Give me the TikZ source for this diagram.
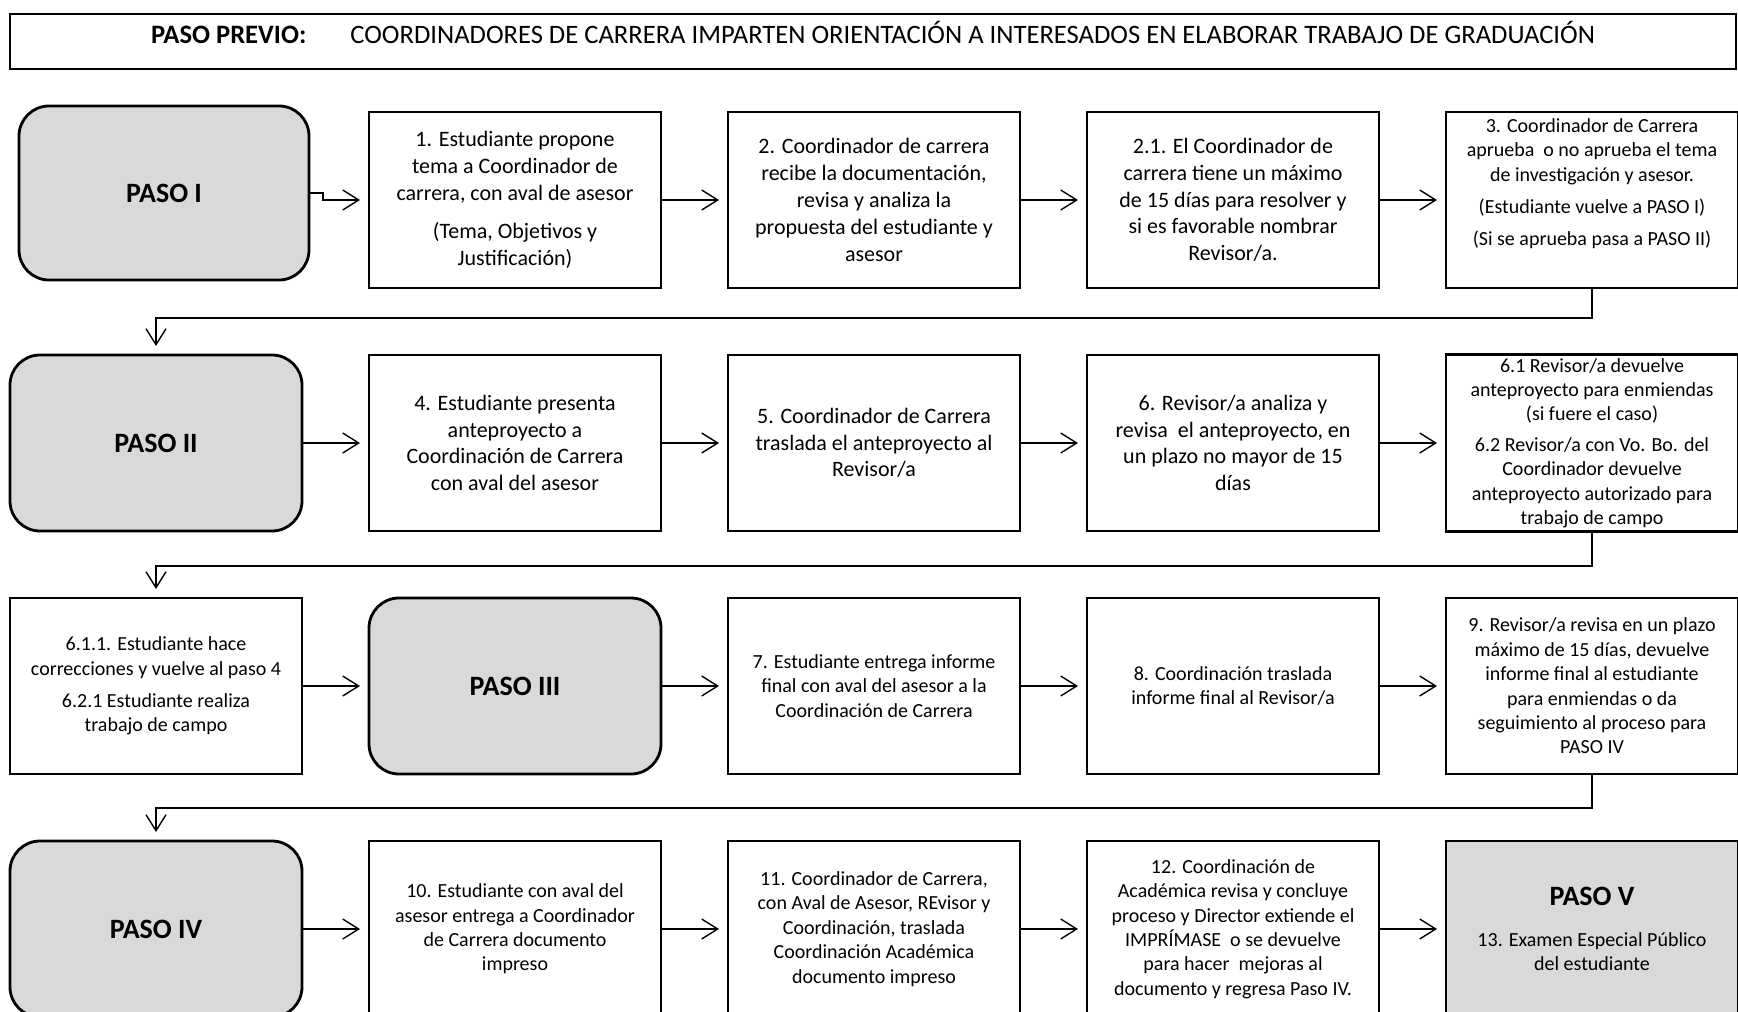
\documentclass[tikz,border=0pt]{standalone}
\usepackage{fontspec}
\setmainfont{Carlito}
\usetikzlibrary{positioning,arrows.meta}
\definecolor{pasogray}{HTML}{D9D9D9}

\begin{document}
\begin{tikzpicture}[
	node distance=33.5pt,
	block/.style={draw, line width=1.4pt, outer sep=0pt, minimum width=146pt,
		minimum height=88pt, align=center, inner sep=2pt,
		font=\fontsize{11}{13.4}\selectfont},
	smalltext/.style={font=\fontsize{10}{12.2}\selectfont},
	paso/.style={block, fill=pasogray, rounded corners=15pt,
		font=\fontsize{14}{17}\selectfont\bfseries},
	flow/.style={-{Straight Barb[length=8pt,width=10pt]}, line width=0.7pt, shorten >=4.5pt}
	]
\useasboundingbox (0,0) rectangle (869pt,-505.5pt);

\node[draw, line width=0.8pt, minimum width=863pt, minimum height=27.5pt, text height=10pt, text depth=8pt] (previo) at (436.5pt,-20.75pt)
	{\fontsize{13.3}{16}\selectfont\textbf{PASO PREVIO:}\hspace{22pt}COORDINADORES DE CARRERA IMPARTEN ORIENTACIÓN A INTERESADOS EN ELABORAR TRABAJO DE GRADUACIÓN};

\node[block] (s1) at (257.5pt,-100pt) {1. Estudiante propone\\ tema a Coordinador de\\ carrera, con aval de asesor\\[6pt] (Tema, Objetivos y\\ Justificación)};
\node[paso, left=30pt of s1, yshift=3.5pt, minimum width=145pt, minimum height=87pt] (paso1) {PASO I};
\node[block, right=of s1] (s2) {2. Coordinador de carrera\\ recibe la documentación,\\ revisa y analiza la\\ propuesta del estudiante y\\ asesor};
\node[block, right=of s2] (s21) {2.1. El Coordinador de\\ carrera tiene un máximo\\ de 15 días para resolver y\\ si es favorable nombrar\\ Revisor/a.};
\node[block, right=of s21] (s3) {};
\node[smalltext, align=center, inner sep=2pt, below=1pt of s3.north] (s3txt) {3. Coordinador de Carrera\\ aprueba\ \ o no aprueba el tema\\ de investigación y asesor.\\[4pt] (Estudiante vuelve a PASO I)\\[4pt] (Si se aprueba pasa a PASO II)};

\node[block, below=of s1] (s4) {4. Estudiante presenta\\ anteproyecto a\\ Coordinación de Carrera\\ con aval del asesor};
\node[paso, left=of s4] (paso2) {PASO II};
\node[block, right=of s4] (s5) {5. Coordinador de Carrera\\ traslada el anteproyecto al\\ Revisor/a};
\node[block, right=of s5] (s6) {6. Revisor/a analiza y\\ revisa\ \ el anteproyecto, en\\ un plazo no mayor de 15\\ días};
\node[block, smalltext, right=of s6] (s61) {6.1 Revisor/a devuelve\\ anteproyecto para enmiendas\\ (si fuere el caso)\\[3pt] 6.2 Revisor/a con Vo. Bo. del\\ Coordinador devuelve\\ anteproyecto autorizado para\\ trabajo de campo};

\node[paso, below=of s4] (paso3) {PASO III};
\node[block, smalltext, left=of paso3] (s611) {6.1.1. Estudiante hace\\ correcciones y vuelve al paso 4\\[4pt] 6.2.1 Estudiante realiza\\ trabajo de campo};
\node[block, smalltext, right=of paso3] (s7) {7. Estudiante entrega informe\\ final con aval del asesor a la\\ Coordinación de Carrera};
\node[block, smalltext, right=of s7] (s8) {8. Coordinación traslada\\ informe final al Revisor/a};
\node[block, smalltext, right=of s8] (s9) {9. Revisor/a revisa en un plazo\\ máximo de 15 días, devuelve\\ informe final al estudiante\\ para enmiendas o da\\ seguimiento al proceso para\\ PASO IV};

\node[block, smalltext, below=of paso3] (s10) {10. Estudiante con aval del\\ asesor entrega a Coordinador\\ de Carrera documento\\ impreso};
\node[paso, left=of s10] (paso4) {PASO IV};
\node[block, smalltext, right=of s10] (s11) {11. Coordinador de Carrera,\\ con Aval de Asesor, REvisor y\\ Coordinación, traslada\\ Coordinación Académica\\ documento impreso};
\node[block, smalltext, right=of s11] (s12) {12. Coordinación de\\ Académica revisa y concluye\\ proceso y Director extiende el\\ IMPRÍMASE\ \ o se devuelve\\ para hacer\ \ mejoras al\\ documento y regresa Paso IV.};
\node[block, smalltext, fill=pasogray, right=of s12] (paso5) {{\fontsize{14}{17}\selectfont\bfseries PASO V}\\[8pt] 13. Examen Especial Público\\ del estudiante};

\draw[flow] (paso1.east) -- ++(7pt,0) |- (s1.west);
\draw[flow] (s1.east) -- (s2.west);
\draw[flow] (s2.east) -- (s21.west);
\draw[flow] (s21.east) -- (s3.west);
\draw[flow] (s3.south) -- ++(0,-15pt) -| (paso2.north);

\draw[flow] (paso2.east) -- (s4.west);
\draw[flow] (s4.east) -- (s5.west);
\draw[flow] (s5.east) -- (s6.west);
\draw[flow] (s6.east) -- (s61.west);
\draw[flow] (s61.south) -- ++(0,-17pt) -| (s611.north);

\draw[flow] (s611.east) -- (paso3.west);
\draw[flow] (paso3.east) -- (s7.west);
\draw[flow] (s7.east) -- (s8.west);
\draw[flow] (s8.east) -- (s9.west);
\draw[flow] (s9.south) -- ++(0,-17pt) -| (paso4.north);

\draw[flow] (paso4.east) -- (s10.west);
\draw[flow] (s10.east) -- (s11.west);
\draw[flow] (s11.east) -- (s12.west);
\draw[flow] (s12.east) -- (paso5.west);
\end{tikzpicture}
\end{document}
